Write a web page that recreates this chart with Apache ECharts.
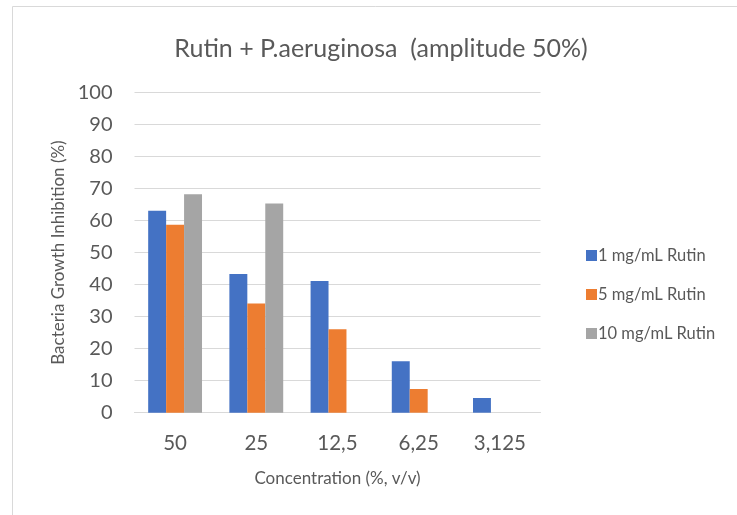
<!DOCTYPE html>
<html>
<head>
<meta charset="utf-8">
<script src="https://cdn.jsdelivr.net/npm/echarts@6/dist/echarts.min.js"></script>
<style>
  html, body { margin: 0; padding: 0; background: #fff; }
  #chart { width: 737px; height: 515px; }
</style>
</head>
<body>
<div id="chart"></div>
<script>
// Concentrations on the x axis
const categories = ['50', '25', '12,5', '6,25', '3,125'];
// Growth inhibition (%) per Rutin dose
const rutin1 = [63.1, 43.3, 41.1, 16.1, 4.6];
const rutin5 = [58.7, 34.1, 26.1, 7.4, null];
const rutin10 = [68.2, 65.3, null, null, null];
const seriesNames = ['1 mg/mL Rutin', '5 mg/mL Rutin', '10 mg/mL Rutin'];
const colors = ['#4472C4', '#ED7D31', '#A5A5A5'];

const font = 'Lato, "Open Sans", sans-serif';
const chart = echarts.init(document.getElementById('chart'));

chart.setOption({
  animation: false,
  textStyle: { fontFamily: font },
  title: {
    text: 'Rutin + P.aeruginosa  (amplitude 50%)',
    left: 376, top: 31, textAlign: 'center',
    textStyle: { fontFamily: font, fontSize: 25, fontWeight: 'normal', color: '#595959' }
  },
  graphic: [{
    type: 'rect', silent: true,
    shape: { x: 12.5, y: 6.5, width: 740, height: 520 },
    style: { fill: null, stroke: '#d9d9d9', lineWidth: 1 }
  }],
  legend: {
    orient: 'vertical', left: 581, top: 242, itemGap: 22,
    itemWidth: 11, itemHeight: 11, icon: 'rect',
    textStyle: { fontFamily: font, fontSize: 16.5, color: '#595959', padding: [0, 0, 0, -4] },
    data: seriesNames
  },
  grid: { left: 134.5, right: 196.5, top: 92.5, bottom: 102.3, containLabel: false },
  xAxis: {
    type: 'category', data: categories,
    name: 'Concentration (%, v/v)', nameLocation: 'middle', nameGap: 57,
    nameTextStyle: { fontFamily: font, fontSize: 17, color: '#595959' },
    axisLine: { lineStyle: { color: '#d9d9d9', width: 1 } },
    axisTick: { show: false },
    axisLabel: { fontFamily: font, fontSize: 20.5, color: '#595959', margin: 20 }
  },
  yAxis: {
    type: 'value', min: 0, max: 100, interval: 10,
    name: 'Bacteria Growth Inhibition (%)', nameLocation: 'middle', nameGap: 66,
    nameTextStyle: { fontFamily: font, fontSize: 17, color: '#595959' },
    axisLine: { show: false }, axisTick: { show: false },
    axisLabel: { fontFamily: font, fontSize: 20, color: '#595959', margin: 22 },
    splitLine: { lineStyle: { color: '#d9d9d9', width: 1 } }
  },
  series: [rutin1, rutin5, rutin10].map((d, i) => ({
    type: 'bar', name: seriesNames[i], data: d,
    barGap: '0%', barCategoryGap: '33.7%',
    itemStyle: { color: colors[i] }
  }))
});
</script>
</body>
</html>
